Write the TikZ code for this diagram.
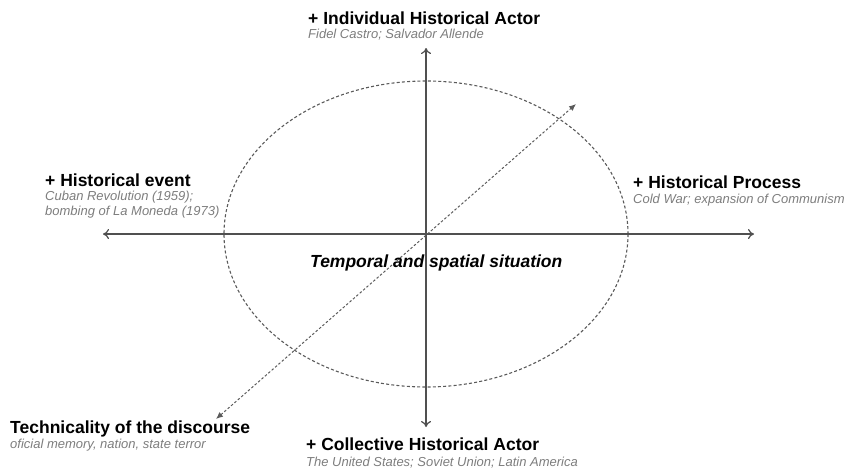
\documentclass[tikz,border=0pt]{standalone}
\usepackage{fontspec}
\setmainfont{Liberation Sans}
\definecolor{axisgray}{RGB}{80,80,80}
\definecolor{dotgray}{RGB}{90,90,90}
\definecolor{notegray}{RGB}{125,125,125}
\usetikzlibrary{arrows.meta}
\tikzstyle{title} = [anchor=base west, inner sep=0pt, font=\fontsize{17.5}{20}\selectfont\bfseries]
\tikzstyle{note} = [anchor=base west, inner sep=0pt, text=notegray, font=\fontsize{13}{15}\selectfont\itshape]
\tikzstyle{axis} = [line width=1.2pt, draw=axisgray, {To[length=6pt,width=10pt]}-{To[length=6pt,width=10pt]}]
\tikzstyle{diag} = [line width=1pt, draw=dotgray, dash pattern=on 2.5pt off 2pt, {Latex[length=7pt,width=6pt]}-{Latex[length=7pt,width=6pt]}]

\begin{document}
\begin{tikzpicture}[x=1pt, y=-1pt]
        \useasboundingbox (0,0) rectangle (858,472);

        \coordinate (center) at (426,234);
        \coordinate (top) at (426,48);
        \coordinate (bottom) at (426,427);
        \coordinate (left) at (103,234);
        \coordinate (right) at (754,234);
        \coordinate (low) at (216,419);
        \coordinate (high) at (576,104);

        \draw [line width=1.1pt, draw=dotgray, dash pattern=on 3pt off 2.2pt] (center) ellipse [x radius=202, y radius=153];

        \draw [axis] (left) -- (right);
        \draw [axis] (bottom) -- (top);
        \draw [diag] (low) -- (high);

        \node (node0) [title] at (308,24) {+ Individual Historical Actor};
        \node (node1) [note] at (308,38) {Fidel Castro; Salvador Allende};
        \node (node2) [title] at (45,186) {+ Historical event};
        \node (node3) [note] at (45,200) {Cuban Revolution (1959);};
        \node (node4) [note] at (45,215) {bombing of La Moneda (1973)};
        \node (node5) [title] at (633,188) {+ Historical Process};
        \node (node6) [note] at (633,203) {Cold War; expansion of Communism};
        \node (node7) [title] at (10,433) {Technicality of the discourse};
        \node (node8) [note] at (10,448) {oficial memory, nation, state terror};
        \node (node9) [title] at (306,450) {+ Collective Historical Actor};
        \node (node10) [note] at (306,466) {The United States; Soviet Union; Latin America};
        \node (node11) [title, font=\fontsize{17.5}{20}\selectfont\bfseries\itshape] at (310,267) {Temporal and spatial situation};
    \end{tikzpicture}
\end{document}
